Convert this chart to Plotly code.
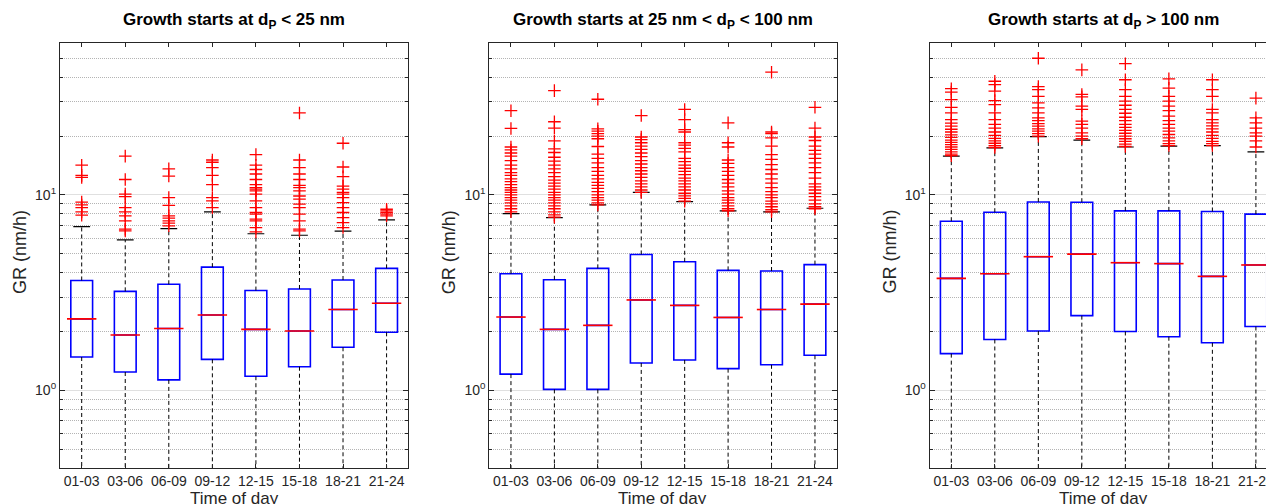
import plotly.graph_objects as go

# ---------------- data ----------------
categories = ["01-03", "03-06", "06-09", "09-12", "12-15", "15-18", "18-21", "21-24"]

titles = [
    "Growth starts at d<sub>P</sub> < 25 nm",
    "Growth starts at 25 nm < d<sub>P</sub> < 100 nm",
    "Growth starts at d<sub>P</sub> > 100 nm",
]

# panel 1 : dp < 25 nm
p1_q1 = [1.48, 1.24, 1.13, 1.44, 1.18, 1.32, 1.66, 1.98]
p1_med = [2.32, 1.92, 2.07, 2.43, 2.05, 2.01, 2.59, 2.79]
p1_q3 = [3.65, 3.21, 3.49, 4.27, 3.24, 3.30, 3.67, 4.21]
p1_upper = [6.89, 5.89, 6.73, 8.19, 6.33, 6.22, 6.53, 7.45]
p1_lower = [0.25, 0.25, 0.25, 0.25, 0.25, 0.25, 0.25, 0.25]
p1_outliers = [
    [14.2, 12.6, 12.3, 9.2, 8.89, 8.61, 8.19, 7.88],
    [15.8, 12.0, 10.1, 9.8, 8.61, 8.19, 7.82, 7.36, 6.68, 6.55],
    [13.6, 12.5, 9.69, 8.85, 7.82, 7.61, 7.36, 7.17, 6.95],
    [15.1, 14.7, 13.8, 12.6, 11.3, 9.69, 9.32, 8.61],
    [16.1, 14.2, 13.5, 12.8, 12.0, 11.3, 10.9, 10.7, 10.5, 10.1, 9.32, 8.61, 8.13, 7.98, 7.52, 7.36, 6.81, 6.47],
    [26.3, 15.1, 13.8, 12.8, 12.0, 11.2, 10.9, 10.5, 9.88, 9.51, 8.97, 8.61, 7.98, 7.36, 6.68, 6.55],
    [18.4, 13.9, 12.4, 11.1, 10.7, 10.3, 10.1, 9.69, 9.14, 8.61, 8.13, 7.66, 7.22, 6.81],
    [8.45, 8.29, 8.13, 7.98, 7.82],
]

# panel 2 : 25 nm < dp < 100 nm
p2_q1 = [1.21, 1.01, 1.01, 1.38, 1.43, 1.29, 1.35, 1.51]
p2_med = [2.37, 2.05, 2.15, 2.90, 2.72, 2.36, 2.59, 2.76]
p2_q3 = [3.95, 3.68, 4.21, 4.96, 4.55, 4.11, 4.08, 4.40]
p2_upper = [8.03, 7.66, 8.89, 10.3, 9.24, 8.29, 8.19, 8.55]
p2_lower = [0.25, 0.25, 0.25, 0.25, 0.25, 0.25, 0.25, 0.25]
p2_outliers = [
    [27.0, 21.9, 17.6, 17.0, 16.4, 15.8, 15.0, 14.2, 13.6, 13.0, 12.6, 12.1, 11.7, 11.3, 10.9, 10.6, 10.3, 10.0, 9.7, 9.4, 9.1, 8.8, 8.5, 8.2],
    [34.2, 23.7, 22.0, 18.9, 17.2, 16.5, 15.6, 14.9, 14.2, 13.6, 13.0, 12.4, 11.9, 11.5, 11.1, 10.7, 10.3, 10.0, 9.7, 9.4, 9.1, 8.8, 8.5, 8.2, 7.9, 7.7],
    [30.9, 21.8, 21.2, 20.6, 20.0, 19.4, 17.7, 16.2, 15.4, 14.6, 13.8, 13.2, 12.6, 12.1, 11.6, 11.2, 10.8, 10.4, 10.0, 9.7, 9.4, 9.1, 8.9],
    [25.5, 19.8, 19.2, 18.5, 17.8, 17.1, 16.4, 15.7, 15.0, 14.4, 13.8, 13.3, 12.8, 12.3, 11.8, 11.4, 11.0, 10.6, 10.3],
    [27.4, 24.3, 21.6, 21.0, 18.5, 18.0, 17.3, 16.6, 15.4, 14.8, 14.2, 13.7, 13.2, 12.7, 12.2, 11.8, 11.4, 11.0, 10.6, 10.2, 9.9, 9.6, 9.3],
    [23.4, 18.5, 17.6, 15.1, 14.5, 13.8, 13.2, 12.6, 12.0, 11.5, 11.0, 10.5, 10.1, 9.7, 9.4, 9.1, 8.8, 8.5, 8.3],
    [42.5, 21.0, 20.6, 19.6, 17.8, 16.1, 15.2, 14.3, 13.5, 12.8, 12.1, 11.5, 10.9, 10.4, 10.0, 9.7, 9.3, 9.0, 8.7, 8.4, 8.2],
    [28.1, 22.0, 19.8, 19.0, 17.8, 16.9, 16.2, 15.4, 14.6, 13.8, 13.0, 12.2, 11.4, 11.0, 10.6, 10.2, 9.8, 9.4, 9.0, 8.7, 8.5],
]

# panel 3 : dp > 100 nm
p3_q1 = [1.54, 1.82, 2.01, 2.41, 2.00, 1.88, 1.75, 2.12]
p3_med = [3.74, 3.95, 4.83, 4.98, 4.50, 4.45, 3.83, 4.38]
p3_q3 = [7.34, 8.16, 9.21, 9.18, 8.29, 8.29, 8.23, 7.98]
p3_upper = [15.8, 17.4, 19.9, 19.1, 17.6, 17.8, 17.9, 16.6]
p3_lower = [0.25, 0.25, 0.25, 0.25, 0.25, 0.25, 0.25, 0.25]
p3_outliers = [
    [35.0, 33.6, 30.8, 28.1, 26.3, 24.3, 23.3, 22.5, 21.7, 21.0, 20.3, 19.7, 19.1, 18.6, 18.1, 17.6, 17.1, 16.6, 16.2, 15.9],
    [38.2, 36.7, 34.0, 30.4, 29.0, 26.3, 24.3, 23.0, 22.0, 21.0, 20.2, 19.5, 18.9, 18.4, 17.9, 17.5],
    [50.1, 35.9, 34.6, 32.0, 29.6, 27.9, 26.3, 24.8, 24.0, 23.2, 22.5, 21.8, 21.2, 20.6, 20.0],
    [43.7, 32.7, 31.8, 28.5, 27.4, 23.9, 23.0, 22.0, 20.8, 20.0, 19.4],
    [47.0, 38.9, 34.6, 32.0, 30.2, 28.8, 27.4, 26.2, 25.0, 24.0, 23.0, 22.2, 21.4, 20.7, 20.0, 19.4, 18.8, 18.2, 17.7],
    [39.3, 35.2, 32.0, 30.2, 28.5, 27.0, 25.3, 24.0, 23.0, 22.0, 21.2, 20.4, 19.6, 18.9, 18.3, 17.9],
    [38.9, 34.6, 32.0, 27.4, 26.3, 24.3, 23.4, 22.6, 21.8, 21.0, 20.2, 19.5, 18.8, 18.3, 17.9],
    [31.3, 24.8, 23.4, 22.0, 20.8, 20.0, 18.9, 17.6],
]

y_major_ticks = [1, 10]
y_major_text = ["10<sup>0</sup>", "10<sup>1</sup>"]
y_minor_ticks = [0.4, 0.5, 0.6, 0.7, 0.8, 0.9, 2, 3, 4, 5, 6, 7, 8, 9, 20, 30, 40, 50]

panels = [
    (p1_q1, p1_med, p1_q3, p1_upper, p1_lower, p1_outliers),
    (p2_q1, p2_med, p2_q3, p2_upper, p2_lower, p2_outliers),
    (p3_q1, p3_med, p3_q3, p3_upper, p3_lower, p3_outliers),
]

# ---------------- layout geometry (page pixels) ----------------
OFF = 8                      # page body margin
W, H = 1274 - OFF, 504 - OFF  # figure size so that it ends at the window edge
frame_left = [60, 490, 931]
frame_right = [409, 838, 1274]
x_ranges = [[-0.5, 7.5], [-0.5, 7.5], [-0.5, 7.37]]
frame_top, frame_bottom = 43, 468


def px(xp):
    return (xp - OFF) / W


def py(yp):
    return 1 - (yp - OFF) / H


FONT = "Liberation Sans, Arial, Helvetica, sans-serif"
BLUE = "#0000ff"
RED = "#ff0000"
AXC = "#262626"

fig = go.Figure()

for i, (q1, med, q3, upper, lower, outl) in enumerate(panels):
    xa = "x" if i == 0 else f"x{i+1}"
    ya = "y" if i == 0 else f"y{i+1}"

    # whiskers (dashed black)
    wx, wy = [], []
    for c, a, b, lo, hi in zip(categories, q1, q3, lower, upper):
        wx += [c, c, None, c, c, None]
        wy += [b, hi, None, a, lo, None]
    fig.add_trace(go.Scatter(x=wx, y=wy, mode="lines", xaxis=xa, yaxis=ya,
                             line=dict(color="black", width=1, dash="4px,3px"),
                             hoverinfo="skip", showlegend=False))
    # whisker caps
    fig.add_trace(go.Scatter(x=categories, y=upper, mode="markers", xaxis=xa, yaxis=ya,
                             marker=dict(symbol="line-ew", size=12, color="black",
                                         line=dict(color="black", width=1.2)),
                             hoverinfo="skip", showlegend=False))
    # boxes
    fig.add_trace(go.Box(x=categories, q1=q1, median=med, q3=q3,
                         lowerfence=q1, upperfence=q3, xaxis=xa, yaxis=ya,
                         width=0.5, whiskerwidth=0, boxpoints=False,
                         line=dict(color=BLUE, width=1.6),
                         fillcolor="rgba(0,0,0,0)", showlegend=False))
    # medians (red)
    fig.add_trace(go.Scatter(x=categories, y=med, mode="markers", xaxis=xa, yaxis=ya,
                             marker=dict(symbol="line-ew", size=21, color=RED,
                                         line=dict(color=RED, width=1.6)),
                             hoverinfo="skip", showlegend=False))
    # outliers
    ox, oy = [], []
    for c, vals in zip(categories, outl):
        ox += [c] * len(vals)
        oy += vals
    fig.add_trace(go.Scatter(x=ox, y=oy, mode="markers", xaxis=xa, yaxis=ya,
                             marker=dict(symbol="cross-thin", size=9, color=RED,
                                         line=dict(color=RED, width=1.3)),
                             hoverinfo="skip", showlegend=False))

layout = dict(
    width=W, height=H,
    margin=dict(l=0, r=0, t=0, b=0),
    paper_bgcolor="white", plot_bgcolor="white",
    font=dict(family=FONT, size=14, color=AXC),
    showlegend=False,
)

annotations = []
for i in range(3):
    sx = "xaxis" if i == 0 else f"xaxis{i+1}"
    sy = "yaxis" if i == 0 else f"yaxis{i+1}"
    ya = "y" if i == 0 else f"y{i+1}"
    xa = "x" if i == 0 else f"x{i+1}"
    dom_x = [px(frame_left[i]), min(1.0, px(frame_right[i]))]
    dom_y = [py(frame_bottom), py(frame_top)]
    layout[sx] = dict(
        domain=dom_x, anchor=ya, type="category", categoryorder="array",
        categoryarray=categories, range=x_ranges[i],
        showline=True, linecolor=AXC, linewidth=1, mirror="ticks",
        ticks="inside", ticklen=4, tickcolor=AXC, showgrid=False, zeroline=False,
        tickfont=dict(size=14, color=AXC, family=FONT),
    )
    layout[sy] = dict(
        domain=dom_y, anchor=xa, type="log",
        range=[-0.398, 1.778],
        tickmode="array", tickvals=y_major_ticks, ticktext=y_major_text,
        showline=True, linecolor=AXC, linewidth=1,
        mirror=("ticks" if i < 2 else False),
        ticks="inside", ticklen=5, tickcolor=AXC,
        showgrid=True, gridcolor="#e0e0e0", gridwidth=1, zeroline=False,
        tickfont=dict(size=14, color=AXC, family=FONT),
        minor=dict(tickmode="array", tickvals=y_minor_ticks, ticks="inside",
                   ticklen=3, tickcolor=AXC, showgrid=True, griddash="1px,1px",
                   gridcolor="#b4b4b4", gridwidth=1),
    )
    cx = (frame_left[i] + (frame_right[i] if i < 2 else frame_left[i] + 349)) / 2
    annotations.append(dict(text="<b>" + titles[i] + "</b>", x=px(cx), y=py(21),
                            xref="paper", yref="paper", xanchor="center", yanchor="middle",
                            showarrow=False, font=dict(size=17, color="black", family=FONT)))
    annotations.append(dict(text="Time of day", x=px(cx), y=py(498),
                            xref="paper", yref="paper", xanchor="center", yanchor="middle",
                            showarrow=False, font=dict(size=17, color=AXC, family=FONT)))
    annotations.append(dict(text="GR (nm/h)", x=px(frame_left[i] - 40),
                            y=py(252),
                            xref="paper", yref="paper", xanchor="center", yanchor="middle",
                            textangle=-90, showarrow=False,
                            font=dict(size=18, color=AXC, family=FONT)))

layout["annotations"] = annotations
fig.update_layout(**layout)

fig.write_html("out.html")
